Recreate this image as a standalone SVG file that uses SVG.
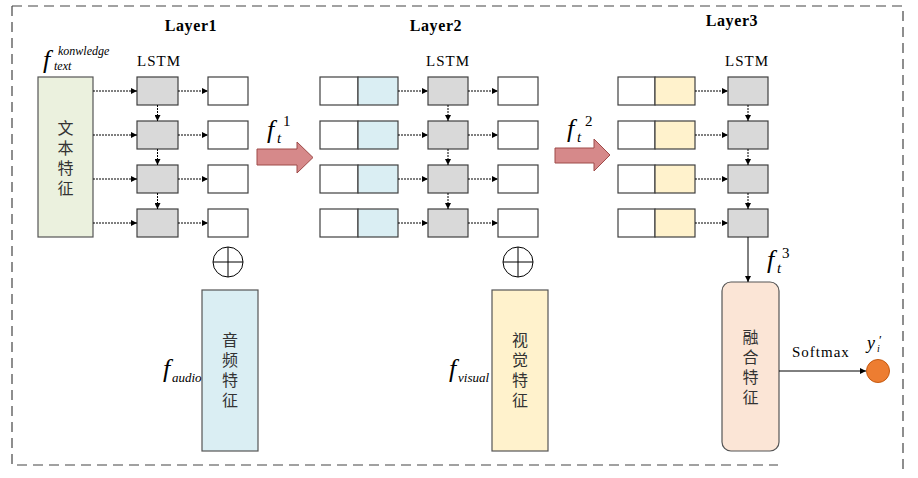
<svg xmlns="http://www.w3.org/2000/svg" width="918" height="478" viewBox="0 0 918 478">
<defs>
<style>
.ttl{font-family:"Liberation Serif","Times New Roman",serif;font-weight:bold;font-size:16px;letter-spacing:0.6px;fill:#000;text-anchor:middle}
.lbl{font-family:"Liberation Serif","Times New Roman",serif;font-size:15px;letter-spacing:1px;fill:#000}
.it{font-family:"Liberation Serif","Times New Roman",serif;font-style:italic;fill:#000}
.up{font-style:normal}
.cjk{font-family:"Noto Sans CJK SC",sans-serif;font-size:16px;fill:#333;writing-mode:tb;glyph-orientation-vertical:0;text-orientation:upright}
.lstm{fill:#D9D9D9;stroke:#404040;stroke-width:1.2}
.out{fill:#fff;stroke:#404040;stroke-width:1.2}
.blue{fill:#DAEEF3;stroke:#404040;stroke-width:1.2}
.yel{fill:#FFF2CC;stroke:#404040;stroke-width:1.2}
.dot{stroke:#000;stroke-width:1;stroke-dasharray:2 1;fill:none;marker-end:url(#ah)}
.solid{stroke:#000;stroke-width:1;fill:none;marker-end:url(#ah)}
.fat{fill:#D6898A;stroke:#9E4A48;stroke-width:1}
</style>
<marker id="ah" markerWidth="6" markerHeight="6" refX="6" refY="3" orient="auto" markerUnits="userSpaceOnUse">
<path d="M0,0 L6,3 L0,6 Z" fill="#000"/>
</marker>
</defs>
<rect width="918" height="478" fill="#fff"/>
<g id="frame">
<path d="M12,6 H903 V472 M12,6 V465 H778" fill="none" stroke="#444" stroke-width="1.2" stroke-dasharray="10 6"/>
</g>
<g id="titles">
<text class="ttl" x="191" y="31">Layer1</text>
<text class="ttl" x="436" y="31">Layer2</text>
<text class="ttl" x="732" y="26">Layer3</text>
<text class="lbl" x="159" y="66" text-anchor="middle">LSTM</text>
<text class="lbl" x="448" y="66" text-anchor="middle">LSTM</text>
<text class="lbl" x="747" y="66" text-anchor="middle">LSTM</text>
</g>
<g id="text-feature">
<rect x="38" y="77" width="55" height="160" fill="#EBF1DE" stroke="#555" stroke-width="1.2"/>
<text class="cjk" x="65.5" y="120" letter-spacing="4">文本特征</text>
<text class="it" x="43" y="68" font-size="26">f<tspan font-size="12" x="58" y="55">konwledge</tspan><tspan font-size="12" x="54" y="70">text</tspan></text>
</g>
<g id="layer1">
<rect class="lstm" x="137" y="77" width="41" height="28"/>
<rect class="lstm" x="137" y="121" width="41" height="28"/>
<rect class="lstm" x="137" y="165" width="41" height="28"/>
<rect class="lstm" x="137" y="209" width="41" height="28"/>
<rect class="out" x="208" y="77" width="40" height="28"/>
<rect class="out" x="208" y="121" width="40" height="28"/>
<rect class="out" x="208" y="165" width="40" height="28"/>
<rect class="out" x="208" y="209" width="40" height="28"/>
</g>
<g id="layer2">
<rect class="out" x="320" y="77" width="38" height="28"/><rect class="blue" x="358" y="77" width="40" height="28"/>
<rect class="out" x="320" y="121" width="38" height="28"/><rect class="blue" x="358" y="121" width="40" height="28"/>
<rect class="out" x="320" y="165" width="38" height="28"/><rect class="blue" x="358" y="165" width="40" height="28"/>
<rect class="out" x="320" y="209" width="38" height="28"/><rect class="blue" x="358" y="209" width="40" height="28"/>
<rect class="lstm" x="428" y="77" width="40" height="28"/>
<rect class="lstm" x="428" y="121" width="40" height="28"/>
<rect class="lstm" x="428" y="165" width="40" height="28"/>
<rect class="lstm" x="428" y="209" width="40" height="28"/>
<rect class="out" x="498" y="77" width="40" height="28"/>
<rect class="out" x="498" y="121" width="40" height="28"/>
<rect class="out" x="498" y="165" width="40" height="28"/>
<rect class="out" x="498" y="209" width="40" height="28"/>
</g>
<g id="layer3">
<rect class="out" x="618" y="77" width="37" height="28"/><rect class="yel" x="655" y="77" width="40" height="28"/>
<rect class="out" x="618" y="121" width="37" height="28"/><rect class="yel" x="655" y="121" width="40" height="28"/>
<rect class="out" x="618" y="165" width="37" height="28"/><rect class="yel" x="655" y="165" width="40" height="28"/>
<rect class="out" x="618" y="209" width="37" height="28"/><rect class="yel" x="655" y="209" width="40" height="28"/>
<rect class="lstm" x="728" y="77" width="40" height="28"/>
<rect class="lstm" x="728" y="121" width="40" height="28"/>
<rect class="lstm" x="728" y="165" width="40" height="28"/>
<rect class="lstm" x="728" y="209" width="40" height="28"/>
</g>
<g id="arrow-f1">
<polygon class="fat" points="257,149 297,149 297,142 313,157.5 297,173 297,165 257,165"/>
<text class="it" x="267" y="138" font-size="26">f<tspan font-size="15" x="277" y="143">t</tspan><tspan class="up" font-size="15" x="283" y="126">1</tspan></text>
</g>
<g id="arrow-f2">
<polygon class="fat" points="555,148 594,148 594,139 610,155 594,171 594,163 555,163"/>
<text class="it" x="567" y="137" font-size="26">f<tspan font-size="15" x="577" y="142">t</tspan><tspan class="up" font-size="15" x="585" y="126">2</tspan></text>
</g>
<g id="oplus1">
<circle cx="228" cy="262" r="15" fill="#fff" stroke="#000" stroke-width="1"/>
<path d="M213,262 H243 M228,247 V277" stroke="#000" stroke-width="1"/>
</g>
<g id="oplus2">
<circle cx="518" cy="262" r="15" fill="#fff" stroke="#000" stroke-width="1"/>
<path d="M503,262 H533 M518,247 V277" stroke="#000" stroke-width="1"/>
</g>
<g id="audio">
<rect x="202" y="290" width="56" height="161" fill="#DAEEF3" stroke="#555" stroke-width="1.2"/>
<text class="cjk" x="230" y="332" letter-spacing="4">音频特征</text>
<text class="it" x="163" y="377" font-size="26">f<tspan font-size="13" x="172" y="382">audio</tspan></text>
</g>
<g id="visual">
<rect x="492" y="290" width="56" height="161" fill="#FFF2CC" stroke="#555" stroke-width="1.2"/>
<text class="cjk" x="520" y="332" letter-spacing="4">视觉特征</text>
<text class="it" x="449" y="377" font-size="26">f<tspan font-size="13" x="458" y="382">visual</tspan></text>
</g>
<g id="fusion">
<rect x="722" y="282" width="57" height="169" rx="9" ry="9" fill="#FBE5D6" stroke="#555" stroke-width="1.2"/>
<text class="cjk" x="750.5" y="329" letter-spacing="4">融合特征</text>
<text class="it" x="767" y="268" font-size="26">f<tspan font-size="15" x="777" y="273">t</tspan><tspan class="up" font-size="15" x="782" y="258">3</tspan></text>
</g>
<g id="output">
<circle cx="878" cy="371" r="11.5" fill="#ED7D31" stroke="#C55A11" stroke-width="1"/>
<text class="it" x="867" y="349" font-size="18">y<tspan font-size="10" x="877" y="352">i</tspan><tspan class="up" font-size="13" x="879" y="344">′</tspan></text>
<text class="lbl" x="792" y="357" letter-spacing="0.8">Softmax</text>
</g>
<g id="connectors">
<path class="dot" d="M93,91 H137"/><path class="dot" d="M93,135 H137"/><path class="dot" d="M93,179 H137"/><path class="dot" d="M93,223 H137"/>
<path class="dot" d="M178,91 H208"/><path class="dot" d="M178,135 H208"/><path class="dot" d="M178,179 H208"/><path class="dot" d="M178,223 H208"/>
<path class="dot" d="M157.5,105 V121"/><path class="dot" d="M157.5,149 V165"/><path class="dot" d="M157.5,193 V209"/>
<path class="dot" d="M398,91 H428"/><path class="dot" d="M398,135 H428"/><path class="dot" d="M398,179 H428"/><path class="dot" d="M398,223 H428"/>
<path class="dot" d="M468,91 H498"/><path class="dot" d="M468,135 H498"/><path class="dot" d="M468,179 H498"/><path class="dot" d="M468,223 H498"/>
<path class="dot" d="M448,105 V121"/><path class="dot" d="M448,149 V165"/><path class="dot" d="M448,193 V209"/>
<path class="dot" d="M695,91 H728"/><path class="dot" d="M695,135 H728"/><path class="dot" d="M695,179 H728"/><path class="dot" d="M695,223 H728"/>
<path class="dot" d="M748,105 V121"/><path class="dot" d="M748,149 V165"/><path class="dot" d="M748,193 V209"/>
<path class="solid" d="M748,237 V282"/>
<path class="solid" d="M779,371 H866"/>
</g>
</svg>
